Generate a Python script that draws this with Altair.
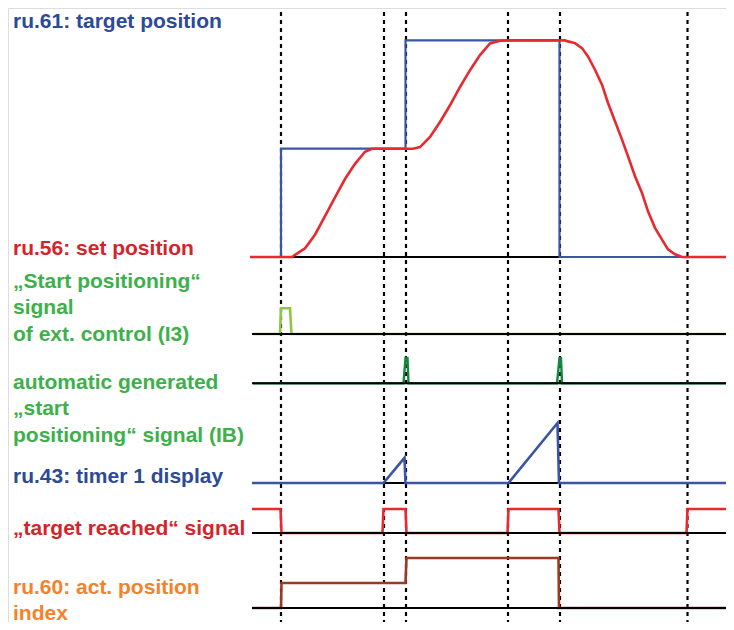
import altair as alt
import pandas as pd

# ---------------- data (time in ms-like units, values in signal units) -------------
T_END = 484
events = [31, 134, 156, 258, 310, 437.5]          # dotted marker times

# ru.61 target position (step signal)
target_t = [0, 31, 31, 155.5, 155.5, 309.5, 309.5, 484]
target_v = [0, 0, 1000, 1000, 2000, 2000, 0, 0]

# ru.56 set position (profile)
setpos_t = [0, 42, 45, 55, 65, 75, 85, 95, 105, 115, 122, 163, 170, 180, 190, 200,
            210, 220, 230, 240, 250, 260, 315, 318, 325, 332, 338, 345, 352, 358, 365,
            372, 378, 385, 392, 398, 405, 412, 418, 425, 432, 484]
setpos_v = [0, 0, 19, 81, 206, 377, 551, 720, 860, 972, 1000, 1000, 1015, 1108, 1247,
            1401, 1570, 1725, 1864, 1972, 1997, 2000, 2000, 1991, 1975, 1929, 1852, 1729,
            1591, 1422, 1253, 1084, 930, 746, 591, 422, 269, 161, 71, 25, 0, 0]

# "Start positioning" signal of ext. control (I3)
i3_t = [3, 30, 31, 40, 41.5, 484]
i3_v = [0, 0, 1, 1, 0, 0]

# automatic generated "start positioning" signal (IB)
ib_t = [3, 153.5, 155.5, 157.5, 158.5, 307, 309.5, 311, 312, 484]
ib_v = [0, 0, 1, 1, 0, 0, 1, 1, 0, 0]

# ru.43 timer 1 display
timer_t = [2, 133.5, 154.5, 155.5, 258.5, 307.5, 309, 484]
timer_v = [0, 0, 21, 0, 0, 50, 0, 0]

# "target reached" signal
reached_t = [2, 30.5, 31.5, 132.5, 133.5, 155.5, 156.5, 257.5, 258.5, 308.5, 309.5, 436.5, 437.5, 484]
reached_v = [1, 1, 0, 0, 1, 1, 0, 0, 1, 1, 0, 0, 1, 1]

# ru.60 act. position index
index_t = [2, 31, 31.5, 155.5, 156.5, 308.5, 309, 484]
index_v = [0, 0, 1, 1, 2, 2, 0, 0]

labels = [
    ("ru.61: target position", "#2C4A96", 27.5),
    ("ru.56: set position", "#D5232B", 255),
    ("\u201eStart positioning\u201c", "#3DB04B", 288),
    ("signal", "#3DB04B", 313.5),
    ("of ext. control (I3)", "#3DB04B", 340.5),
    ("automatic generated", "#3DB04B", 389),
    ("\u201estart", "#3DB04B", 415),
    ("positioning\u201c signal (IB)", "#3DB04B", 441.5),
    ("ru.43: timer 1 display", "#2C4A96", 483),
    ("\u201etarget reached\u201c signal", "#D5232B", 535),
    ("ru.60: act. position", "#F5822A", 594),
    ("index", "#F5822A", 619.5),
]

# ---------------- layout (lane baselines & scale factors, in plot units) -----------
W, H = 718, 614
X0 = -242                      # time value at the left edge of the canvas
def lane_y(ref_px):            # baseline given as reference pixel row
    return 630 - ref_px

lanes = {
    "pos": (lane_y(257), 108.3 / 1000),
    "i3": (lane_y(334), 25.7),
    "ib": (lane_y(383.3), 25.0),
    "timer": (lane_y(483), 1.2),
    "reached": (lane_y(533), 24.0),
    "index": (lane_y(608), 25.0),
}

xs = alt.Scale(domain=[X0, X0 + W], range=[0, W], nice=False, zero=False)
ys = alt.Scale(domain=[8, 622], range=[H, 0], nice=False, zero=False)
X = lambda: alt.X("t:Q", scale=xs, axis=None)
Y = lambda: alt.Y("y:Q", scale=ys, axis=None)


def signal(ts, vs, lane, color, width=2.2):
    base, k = lanes[lane]
    df = pd.DataFrame({"t": ts, "y": [base + v * k for v in vs], "o": range(len(ts))})
    return alt.Chart(df).mark_line(color=color, strokeWidth=width, strokeJoin="miter",
                                   interpolate="linear", clip=True).encode(x=X(), y=Y(), order="o:Q")


def baseline(lane, t0=2):
    base, _ = lanes[lane]
    df = pd.DataFrame({"t": [t0, T_END], "y": [base, base], "o": [0, 1]})
    return alt.Chart(df).mark_line(color="black", strokeWidth=2, clip=True).encode(
        x=X(), y=Y(), order="o:Q")


vdf = pd.DataFrame({"t": events, "y": [lane_y(12)] * len(events), "y2": [0] * len(events)})
vlines = alt.Chart(vdf).mark_rule(color="black", strokeWidth=2.2, strokeDash=[4, 4], clip=True).encode(
    x=X(), y=Y(), y2="y2:Q")

ldf = pd.DataFrame({"text": [l[0] for l in labels], "c": [l[1] for l in labels],
                    "py": [l[2] - 8 for l in labels]})
text = alt.Chart(ldf).mark_text(align="left", baseline="alphabetic", font="Liberation Sans",
                                fontSize=21, fontWeight="bold").encode(
    x=alt.value(5), y=alt.Y("py:Q", scale=None), text="text:N",
    color=alt.Color("c:N", scale=None))

layers = [
    vlines,
    # position lane
    baseline("pos"),
    signal(target_t, target_v, "pos", "#3A55A4"),
    signal(setpos_t, setpos_v, "pos", "#E8292F", 2.6),
    # I3
    signal(i3_t, i3_v, "i3", "#8DC63F", 2.6),
    baseline("i3"),
    # IB
    signal(ib_t, ib_v, "ib", "#12873E", 2.4),
    baseline("ib"),
    # timer
    baseline("timer"),
    signal(timer_t, timer_v, "timer", "#3A55A4", 2.6),
    # target reached
    signal(reached_t, reached_v, "reached", "#E8292F", 2.6),
    baseline("reached"),
    # index
    signal(index_t, index_v, "index", "#9A3A22", 2.6),
    baseline("index"),
    text,
]

chart = alt.layer(*layers).properties(
    width=W, height=H, padding=0, autosize=alt.AutoSizeParams(type="none")
).configure_view(strokeWidth=0, stroke="transparent").configure(background="white")

chart.save("out.html", embed_options={"renderer": "svg", "actions": False})
